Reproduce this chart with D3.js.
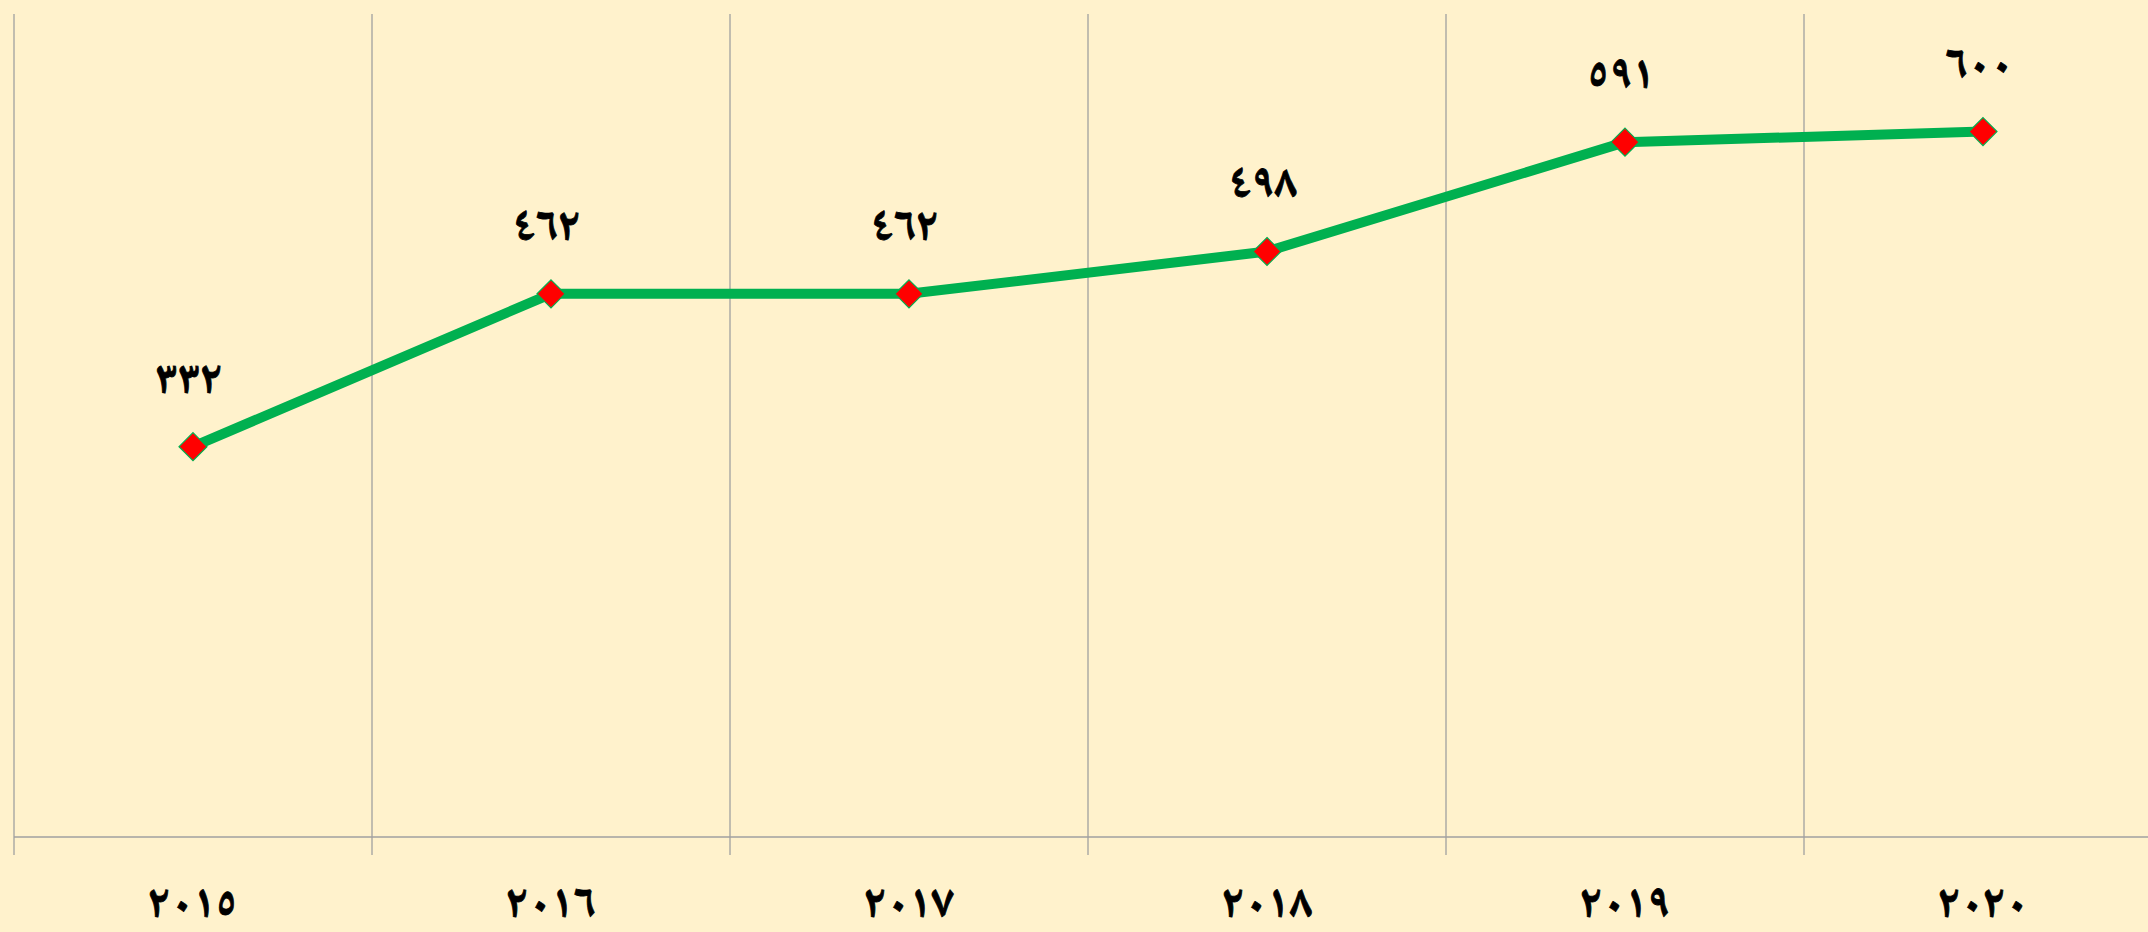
<!DOCTYPE html>
<html>
<head>
<meta charset="utf-8">
<script src="https://cdn.jsdelivr.net/npm/d3@7"></script>
<style>
  html, body { margin: 0; padding: 0; background: #fff2cc; }
  svg { display: block; }
  text { font-family: "Noto Naskh Arabic", "Noto Sans Arabic", "DejaVu Sans", sans-serif; font-weight: bold; }
</style>
</head>
<body>
<div id="chart"></div>
<script>
var years = ["٢٠١٥", "٢٠١٦", "٢٠١٧", "٢٠١٨", "٢٠١٩", "٢٠٢٠"];
var values = [332, 462, 462, 498, 591, 600];
var yDomain = [0, 700];

function toArabicDigits(n) {
    var digits = "٠١٢٣٤٥٦٧٨٩";
    return String(n).replace(/[0-9]/g, function(c) { return digits[+c]; });
}

var width = 2148, height = 932;
var margin = {top: 14, left: 14, bottom: 95};
var bandW = 358;

var data = years.map(function(y, i) { return {year: y, value: values[i]}; });

var svg = d3.select("#chart").append("svg")
    .attr("width", width)
    .attr("height", height);

svg.append("rect").attr("width", width).attr("height", height).attr("fill", "#fff2cc");

var x = d3.scaleBand()
    .domain(years)
    .range([margin.left, margin.left + bandW * years.length])
    .padding(0);

var y = d3.scaleLinear()
    .domain(yDomain)
    .range([height - margin.bottom, margin.top]);

// vertical gridlines at category boundaries (extend below axis as ticks)
var bounds = years.map(function(d) { return x(d); }).concat([x.range()[1]]);
svg.append("g").selectAll("line")
    .data(bounds)
    .enter().append("line")
    .attr("x1", function(d) { return d; })
    .attr("x2", function(d) { return d; })
    .attr("y1", y(yDomain[1]))
    .attr("y2", y(0) + 18)
    .attr("stroke", "#a0a0a0")
    .attr("stroke-width", 1.3);

// category axis line
svg.append("line")
    .attr("x1", margin.left)
    .attr("x2", width)
    .attr("y1", y(0))
    .attr("y2", y(0))
    .attr("stroke", "#a0a0a0")
    .attr("stroke-width", 1.5);

// category labels
svg.append("g").selectAll("text")
    .data(years)
    .enter().append("text")
    .attr("x", function(d) { return x(d) + x.bandwidth() / 2; })
    .attr("y", y(0) + 68)
    .attr("text-anchor", "middle")
    .attr("dominant-baseline", "middle")
    .attr("font-size", 46)
    .attr("fill", "#000")
    .attr("stroke", "#000")
    .attr("stroke-width", 0.8)
    .text(function(d) { return d; });

var line = d3.line()
    .x(function(d) { return x(d.year) + x.bandwidth() / 2; })
    .y(function(d) { return y(d.value); });

svg.append("path")
    .datum(data)
    .attr("d", line)
    .attr("fill", "none")
    .attr("stroke", "#00b050")
    .attr("stroke-width", 10)
    .attr("stroke-linejoin", "round");

// diamond markers
svg.append("g").selectAll("path")
    .data(data)
    .enter().append("path")
    .attr("transform", function(d) {
        return "translate(" + (x(d.year) + x.bandwidth() / 2) + "," + y(d.value) + ")";
    })
    .attr("d", "M0,-14L14,0L0,14L-14,0Z")
    .attr("fill", "#ff0000")
    .attr("stroke", "#00b050")
    .attr("stroke-width", 1.2);

// value labels
svg.append("g").selectAll("text")
    .data(data)
    .enter().append("text")
    .attr("x", function(d) { return x(d.year) + x.bandwidth() / 2 - 4; })
    .attr("y", function(d) { return y(d.value) - 66; })
    .attr("text-anchor", "middle")
    .attr("dominant-baseline", "middle")
    .attr("font-size", 46)
    .attr("fill", "#000")
    .attr("stroke", "#000")
    .attr("stroke-width", 0.8)
    .text(function(d) { return toArabicDigits(d.value); });
</script>
</body>
</html>
